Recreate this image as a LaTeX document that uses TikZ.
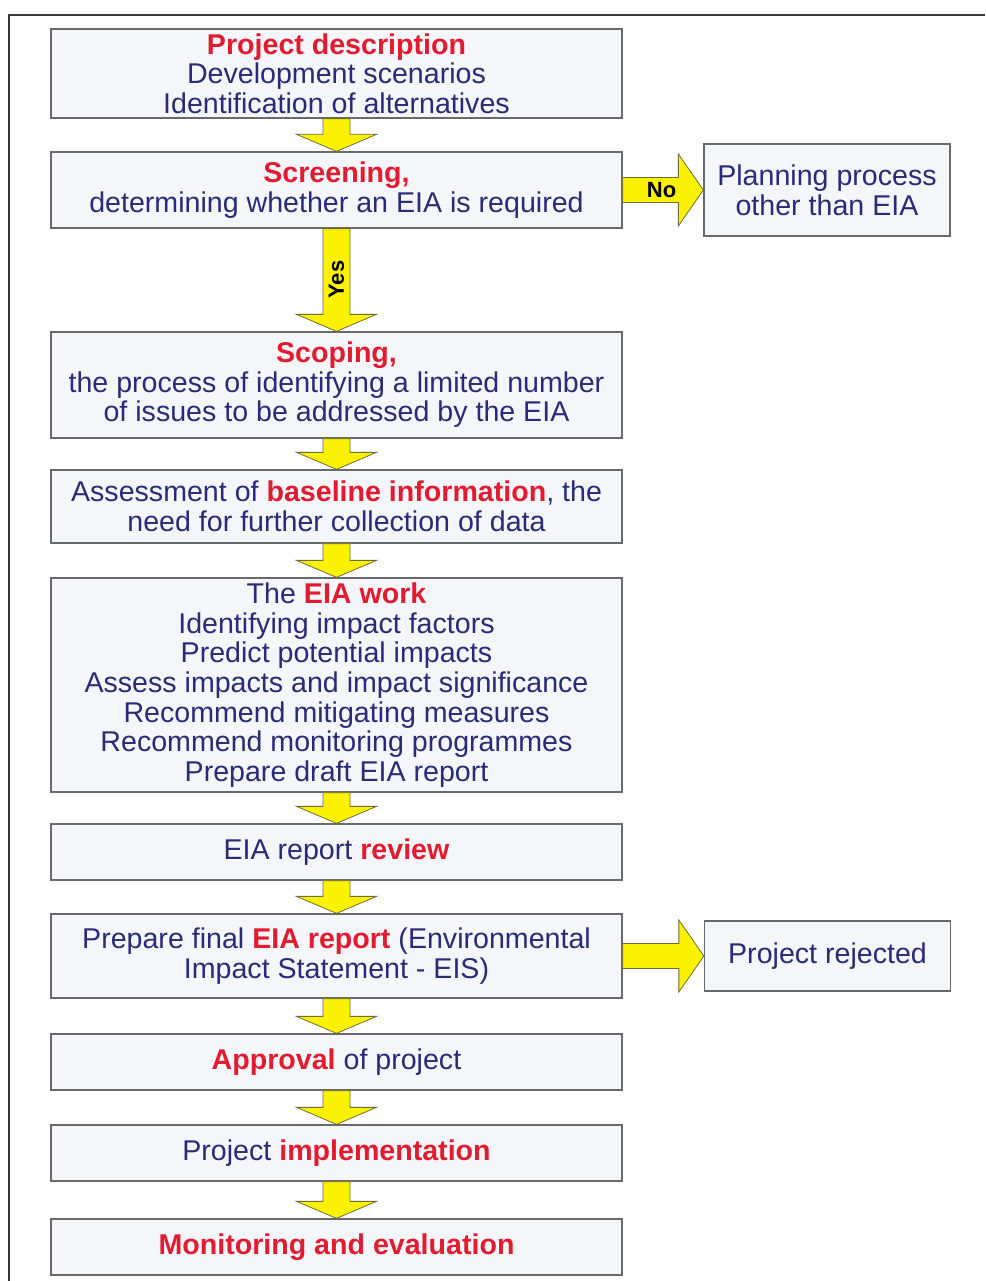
\documentclass[tikz,border=0pt]{standalone}
\usepackage{fontspec}
\setmainfont{Liberation Sans}
\usetikzlibrary{calc}
\definecolor{navy}{RGB}{42,42,118}
\definecolor{eiared}{RGB}{226,28,48}
\definecolor{boxfill}{RGB}{245,246,250}
\definecolor{boxborder}{RGB}{105,105,105}
\definecolor{arrowfill}{RGB}{250,242,0}
\definecolor{arrowline}{RGB}{110,110,60}
\definecolor{framecol}{RGB}{55,55,55}
\newcommand\rd[1]{\textcolor{eiared}{\bfseries #1}}
\newcommand\dnarrow[2]{\draw[yarrow] ($(#1.south)+(-13.5,0)$) -- ($(#2.north)+(-13.5,-17)$) -- ($(#2.north)+(-40,-17)$) -- (#2.north) -- ($(#2.north)+(40,-17)$) -- ($(#2.north)+(13.5,-17)$) -- ($(#1.south)+(13.5,0)$) -- cycle;}
\newcommand\rtarrow[2]{\draw[yarrow] ($(#1.east)+(0,-12.5)$) -- ($(#2.west)+(-25,-12.5)$) -- ($(#2.west)+(-25,-36)$) -- (#2.west) -- ($(#2.west)+(-25,36)$) -- ($(#2.west)+(-25,12.5)$) -- ($(#1.east)+(0,12.5)$) -- cycle;}
\tikzset{
  box/.style={draw=boxborder, line width=1.3pt, fill=boxfill, minimum width=571pt,
    inner sep=0pt, align=center, text=navy, font=\fontsize{28.6}{29.6}\selectfont},
  sidebox/.style={box, minimum width=246pt},
  yarrow/.style={fill=arrowfill, draw=arrowline, line width=0.8pt, line join=miter},
  arrlabel/.style={font=\fontsize{22}{24}\selectfont\bfseries, text=black, inner sep=0pt},
  frameline/.style={draw=framecol, line width=2.4pt}
}
\begin{document}
\begin{tikzpicture}[x=1pt,y=-1pt]
\useasboundingbox (0,0) rectangle (985,1281);
\fill[white] (0,0) rectangle (985,1281);
\coordinate (fbl) at (9,1281);
\coordinate (ftl) at (9,15);
\coordinate (ftr) at (985,15);
\draw[frameline] (fbl) -- (ftl) -- (ftr);

\node[box, minimum height=89pt] (pd) at (336.5,73.5)
  {\rd{Project description}\\Development scenarios\\Identification of alternatives};
\node[box, minimum height=76pt] (scr) at (336.5,190)
  {\rd{Screening,}\\determining whether an EIA is required};
\node[sidebox, minimum height=92pt] (plan) at (827,190)
  {Planning process\\other than EIA};
\node[box, minimum height=106pt] (scop) at (336.5,385)
  {\rd{Scoping,}\\the process of identifying a limited number\\of issues to be addressed by the EIA};
\node[box, minimum height=73pt] (base) at (336.5,506.5)
  {Assessment of \rd{baseline information}, the\\need for further collection of data};
\node[box, minimum height=214pt] (work) at (336.5,685)
  {The \rd{EIA work}\\Identifying impact factors\\Predict potential impacts\\Assess impacts and impact significance\\Recommend mitigating measures\\Recommend monitoring programmes\\Prepare draft EIA report};
\node[box, minimum height=56pt] (rev) at (336.5,852)
  {EIA report \rd{review}};
\node[box, minimum height=84pt] (fin) at (336.5,956)
  {Prepare final \rd{EIA report} (Environmental\\Impact Statement - EIS)};
\node[sidebox, minimum height=70pt] (rej) at (827.5,956)
  {Project rejected};
\node[box, minimum height=56pt] (appr) at (336.5,1062)
  {\rd{Approval} of project};
\node[box, minimum height=56pt] (impl) at (336.5,1153)
  {Project \rd{implementation}};
\node[box, minimum height=56pt] (mon) at (336.5,1247)
  {\rd{Monitoring and evaluation}};

\dnarrow{pd}{scr}
\dnarrow{scr}{scop}
\dnarrow{scop}{base}
\dnarrow{base}{work}
\dnarrow{work}{rev}
\dnarrow{rev}{fin}
\dnarrow{fin}{appr}
\dnarrow{appr}{impl}
\dnarrow{impl}{mon}
\rtarrow{scr}{plan}
\rtarrow{fin}{rej}

\node[arrlabel] (nolab) at ($(scr.east)+(39,0)$) {No};
\node[arrlabel, rotate=90] (yeslab) at ($(scr.south)+(0,51)$) {Yes};
\end{tikzpicture}
\end{document}
